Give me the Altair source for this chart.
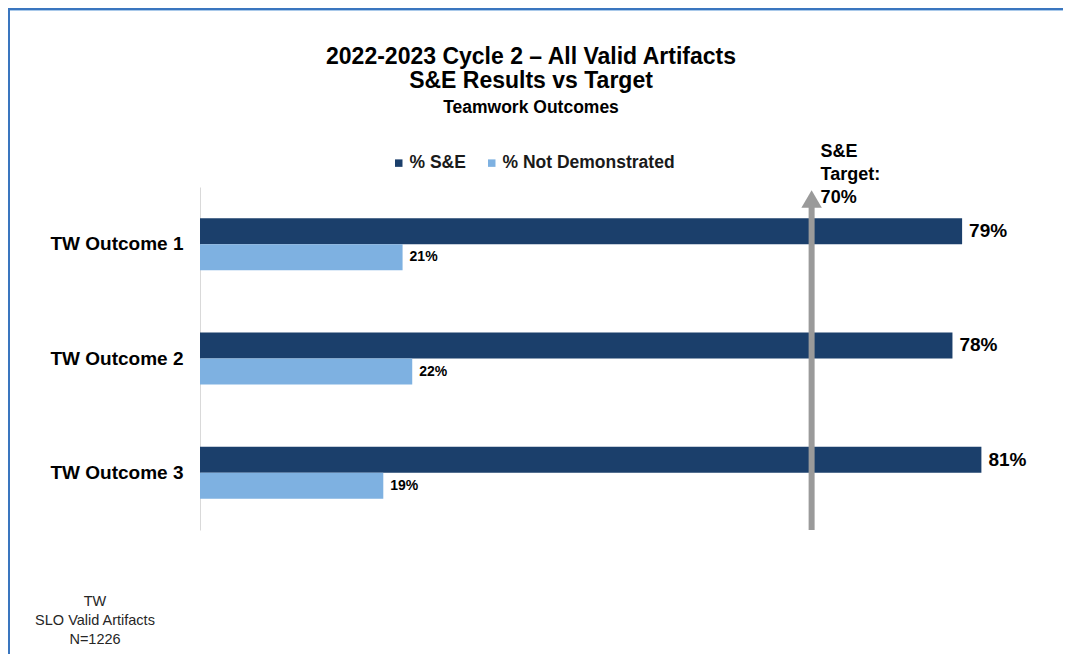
import altair as alt
import pandas as pd

# ---- data ----
outcomes = ["TW Outcome 1", "TW Outcome 2", "TW Outcome 3"]
se_values = [79, 78, 81]
nd_values = [21, 22, 19]
series_names = ["% S&E", "% Not Demonstrated"]
series_colors = ["#1b3f6b", "#7eb1e1"]
target_value = 70          # labelled target
target_arrow_pos = 63.4    # where the arrow is drawn in the reference
title_lines = ["2022-2023 Cycle 2 \u2013 All Valid Artifacts", "S&E Results vs Target"]
subtitle_text = "Teamwork Outcomes"
footnote_lines = ["TW", "SLO Valid Artifacts", "N=1226"]

FONT = "Liberation Sans"

rows = []
for o, s, n in zip(outcomes, se_values, nd_values):
    rows.append({"outcome": o, "series": series_names[0], "value": s, "label": f"{s}%"})
    rows.append({"outcome": o, "series": series_names[1], "value": n, "label": f"{n}%"})
df = pd.DataFrame(rows)

W, H = 847, 343
PAD_L, PAD_T, PAD_R, PAD_B = 192, 179, 16, 124
x_scale = alt.Scale(domain=[0, 87.8], nice=False, zero=True)
y_scale = alt.Scale(domain=outcomes, paddingInner=0.545, paddingOuter=0.2725)
off_scale = alt.Scale(domain=series_names, paddingInner=0, paddingOuter=0)

base = alt.Chart(df)

bars = base.mark_bar(size=26).encode(
    x=alt.X("value:Q", scale=x_scale, axis=None),
    y=alt.Y("outcome:N", scale=y_scale, sort=outcomes, title=None,
            axis=alt.Axis(ticks=False, domainColor="#d9d9d9", domainWidth=1,
                          labelFont=FONT, labelFontSize=19, labelFontWeight="bold",
                          labelColor="#000000", labelPadding=17, grid=False)),
    yOffset=alt.YOffset("series:N", scale=off_scale, sort=series_names),
    color=alt.Color("series:N", sort=series_names,
                    scale=alt.Scale(domain=series_names, range=series_colors),
                    legend=alt.Legend(title=None, orient="none", legendX=190, legendY=-33,
                                      direction="horizontal", symbolType="square",
                                      symbolSize=56, symbolStrokeWidth=0,
                                      labelFont=FONT, labelFontSize=17.5, labelLimit=0,
                                      labelFontWeight="bold", labelColor="#1a1a1a",
                                      labelOffset=2, columnPadding=17)),
)

se_labels = base.transform_filter(alt.datum.series == series_names[0]).mark_text(
    align="left", baseline="middle", dx=7, font=FONT, fontSize=19,
    fontWeight="bold", color="#000000"
).encode(
    x=alt.X("value:Q", scale=x_scale),
    y=alt.Y("outcome:N", scale=y_scale, sort=outcomes),
    yOffset=alt.YOffset("series:N", scale=off_scale, sort=series_names),
    text="label:N",
)

nd_labels = base.transform_filter(alt.datum.series == series_names[1]).mark_text(
    align="left", baseline="middle", dx=7, font=FONT, fontSize=14,
    fontWeight="bold", color="#000000"
).encode(
    x=alt.X("value:Q", scale=x_scale),
    y=alt.Y("outcome:N", scale=y_scale, sort=outcomes),
    yOffset=alt.YOffset("series:N", scale=off_scale, sort=series_names),
    text="label:N",
)

tdf = pd.DataFrame({"pos": [target_arrow_pos],
                    "text": [f"S&E\nTarget:\n{target_value}%"]})
tbase = alt.Chart(tdf)

arrow_shaft = tbase.mark_rule(color="#9a9a9a", strokeWidth=6).encode(
    x=alt.X("pos:Q", scale=x_scale),
    y=alt.value(H),
    y2=alt.value(18),
)
arrow_head = tbase.mark_point(shape="triangle-up", filled=True, color="#9a9a9a",
                              size=420, opacity=1).encode(
    x=alt.X("pos:Q", scale=x_scale),
    y=alt.value(12),
)
target_text = tbase.mark_text(align="left", baseline="alphabetic", dx=9,
                              font=FONT, fontSize=18, fontWeight="bold",
                              lineBreak="\n", lineHeight=23, color="#000000").encode(
    x=alt.X("pos:Q", scale=x_scale),
    y=alt.value(-30),
    text="text:N",
)

# titles as text marks (centred at page x ~531)
title_df = pd.DataFrame({
    "text": title_lines + [subtitle_text],
    "size": [23, 23, 17.5],
    "ypos": [-123, -99, -74],
})
titles = alt.Chart(title_df).mark_text(align="center", baseline="alphabetic",
                                       font=FONT, fontWeight="bold",
                                       color="#000000").encode(
    x=alt.value(331),
    y=alt.Y("ypos:Q", scale=None),
    size=alt.Size("size:Q", scale=None, legend=None),
    text="text:N",
)

fdf = pd.DataFrame({"text": ["\n".join(footnote_lines)]})
footnote = alt.Chart(fdf).mark_text(align="center", baseline="alphabetic",
                                    font=FONT, fontSize=14.5, lineBreak="\n",
                                    lineHeight=19, color="#262626").encode(
    x=alt.value(-105), y=alt.value(419), text="text:N")

# frame (border of the figure box)
frame_df = pd.DataFrame({"k": [0]})
fb = alt.Chart(frame_df)
frame_top = fb.mark_rect(color="#3a76bf").encode(
    x=alt.value(-PAD_L), x2=alt.value(W + PAD_R), y=alt.value(-PAD_T), y2=alt.value(-PAD_T + 2))
frame_top2 = fb.mark_rect(color="#a9c9ea").encode(
    x=alt.value(-PAD_L + 2), x2=alt.value(W + PAD_R), y=alt.value(-PAD_T + 2), y2=alt.value(-PAD_T + 3))
frame_left = fb.mark_rect(color="#3a76bf").encode(
    x=alt.value(-PAD_L), x2=alt.value(-PAD_L + 2), y=alt.value(-PAD_T), y2=alt.value(H + PAD_B))

chart = alt.layer(
    frame_top, frame_top2, frame_left, titles,
    bars, se_labels, nd_labels, arrow_shaft, arrow_head, target_text, footnote
).properties(
    width=W, height=H,
    padding={"left": PAD_L, "top": PAD_T, "right": PAD_R, "bottom": PAD_B},
    autosize=alt.AutoSizeParams(type="none"),
).configure(font=FONT).configure_view(strokeWidth=0, stroke="transparent")

chart.save("out.html", embed_options={"renderer": "svg", "actions": False})
